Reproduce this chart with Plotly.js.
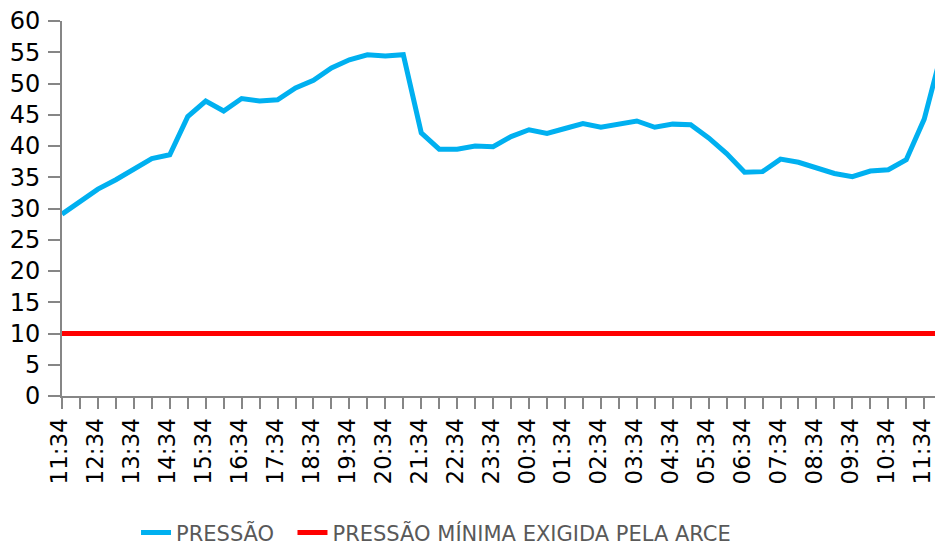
<!DOCTYPE html>
<html>
<head>
<meta charset="utf-8">
<script src="https://cdn.plot.ly/plotly-3.0.1.min.js"></script>
<style>html,body{margin:0;padding:0;background:#fff;}#chart{width:935px;height:547px;}</style>
</head>
<body>
<div id="chart"></div>
<script>
// Half-hourly readings (the chart continues just past its right edge)
const times = [
  "11:34","12:04","12:34","13:04","13:34","14:04","14:34","15:04","15:34","16:04",
  "16:34","17:04","17:34","18:04","18:34","19:04","19:34","20:04","20:34","21:04",
  "21:34","22:04","22:34","23:04","23:34","00:04","00:34","01:04","01:34","02:04",
  "02:34","03:04","03:34","04:04","04:34","05:04","05:34","06:04","06:34","07:04",
  "07:34","08:04","08:34","09:04","09:34","10:04","10:34","11:04","11:34","12:04"
];
const pressao = [
  29.1,31.2,33.1,34.6,36.4,38.0,38.6,44.7,47.2,45.6,
  47.6,47.2,47.4,49.3,50.5,52.5,53.8,54.6,54.4,54.6,
  42.1,39.5,39.5,40.0,39.9,41.5,42.6,42.0,42.8,43.6,
  43.0,43.6,44.0,43.0,43.5,43.4,41.3,38.8,35.8,35.9,
  37.9,37.4,36.4,35.6,35.1,36.0,36.2,37.8,44.3,55.3
];
const minimaX = [0, 49];
const minimaY = [10, 10];
const seriesNames = ["PRESSÃO", "PRESSÃO MÍNIMA EXIGIDA PELA ARCE"];
const tickLabelIdx = [0,2,4,6,8,10,12,14,16,18,20,22,24,26,28,30,32,34,36,38,40,42,44,46,48];

const xIdx = times.map((t, i) => i);

const traces = [
  {
    x: xIdx, y: pressao, text: times, type: "scatter", mode: "lines",
    name: seriesNames[0] + "\u00a0\u00a0", line: {color: "#00B0F0", width: 5}, hoverinfo: "text+y"
  },
  {
    x: minimaX, y: minimaY, type: "scatter", mode: "lines",
    name: seriesNames[1], line: {color: "#FF0000", width: 5}
  }
];

const layout = {
  width: 935, height: 547,
  margin: {l: 62, r: 0, t: 21, b: 151, pad: 0, autoexpand: false},
  paper_bgcolor: "#ffffff", plot_bgcolor: "#ffffff",
  font: {family: "DejaVu Sans", color: "#000000"},
  xaxis: {
    range: [0, 48.6],
    tickmode: "array",
    tickvals: tickLabelIdx,
    ticktext: tickLabelIdx.map(i => times[i]),
    tickangle: -90,
    ticklabeloverflow: "allow",
    ticklabelshift: -2,
    tickfont: {size: 23, family: "DejaVu Sans", color: "#000"},
    ticks: "outside", ticklen: 11, tickwidth: 2, tickcolor: "#868686",
    minor: {tickmode: "linear", tick0: 0, dtick: 1, ticks: "outside", ticklen: 11, tickwidth: 2, tickcolor: "#868686", showgrid: false},
    showline: true, linecolor: "#868686", linewidth: 2,
    showgrid: false, zeroline: false, fixedrange: true, automargin: false
  },
  yaxis: {
    range: [0, 60], dtick: 5, tick0: 0,
    tickfont: {size: 24, family: "DejaVu Sans", color: "#000"},
    ticks: "outside", ticklen: 12, tickwidth: 2, tickcolor: "#868686",
    ticklabelstandoff: 3,
    showline: true, linecolor: "#868686", linewidth: 2,
    showgrid: false, zeroline: false, fixedrange: true, automargin: false
  },
  showlegend: true,
  legend: {
    orientation: "h", x: 0.0848, xanchor: "left", y: -0.365, yanchor: "middle",
    font: {family: "DejaVu Sans", size: 21, color: "#595959"},
    bgcolor: "rgba(0,0,0,0)", borderwidth: 0, itemclick: false, itemdoubleclick: false
  }
};

Plotly.newPlot("chart", traces, layout, {displayModeBar: false, staticPlot: true});
</script>
</body>
</html>
